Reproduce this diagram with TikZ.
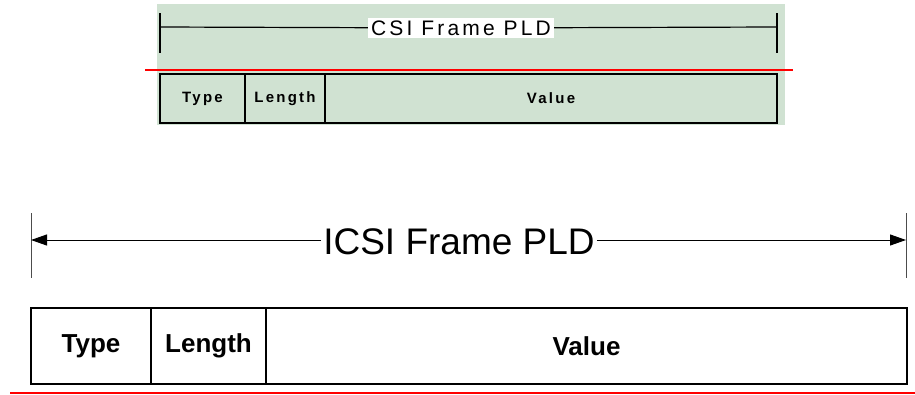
\documentclass[tikz,border=0pt]{standalone}
\usepackage{fontspec}
\setmainfont{Liberation Sans}
\newfontfamily\pixfont[LetterSpace=15]{Liberation Sans}
\usetikzlibrary{arrows.meta,positioning}
\definecolor{pldgreen}{RGB}{208,226,210}
\begin{document}
\begin{tikzpicture}[x=1pt,y=-1pt]
\useasboundingbox (0,0) rectangle (915,394);
\tikzset{oldfield/.style = {draw,line width=1.5pt,inner sep=0pt,outer sep=0pt,minimum height=49pt,font=\pixfont\bfseries\fontsize{15}{15}\selectfont}}
\tikzset{newfield/.style = {draw,line width=1.2pt,inner sep=0pt,outer sep=0pt,minimum height=76pt,font=\bfseries\fontsize{26}{26}\selectfont}}
%old frame, green background
\fill[pldgreen] (157,4) rectangle (785,125);
\draw[line width=1.5pt] (160,13) -- (160,53); \draw[line width=1.5pt] (777,13) -- (777,53);
\coordinate (oldl) at (160,27); \coordinate (oldr) at (777,27);
\node[fill=white,inner sep=3pt,font=\pixfont\fontsize{21}{21}\selectfont] (oldpld) at (461,28) {CSI Frame PLD};
\draw[line width=1.2pt] (oldl) -- (oldpld); \draw[line width=1.2pt] (oldpld) -- (oldr);
%old fields
\node[oldfield,minimum width=85pt] (oldtype) at (202.5,98.5) {Type};
\node[oldfield,minimum width=80pt,right=0pt of oldtype] (oldlength) {Length};
\node[oldfield,minimum width=452pt,right=0pt of oldlength] (oldvalue) {Value};
\draw[red,line width=1.5pt] (145,70) -- (793,70);
%new frame
\draw[line width=1pt,gray!60!black] (31,213) -- (31,278); \draw[line width=1pt,gray!60!black] (906,213) -- (906,278);
\coordinate (newl) at (31,240); \coordinate (newr) at (906,240);
\node[inner sep=2pt,font=\fontsize{37}{37}\selectfont] (newpld) at (459,242) {ICSI Frame PLD};
\tikzset{pldarrow/.style = {-{Triangle[length=16pt,width=11pt]},line width=1pt}}
\draw[pldarrow] (newpld.west |- newl) to (newl);
\draw[pldarrow] (newpld.east |- newr) to (newr);
%new fields
\node[newfield,minimum width=120pt] (newtype) at (91,346) {Type};
\node[newfield,minimum width=115pt,right=0pt of newtype] (newlength) {Length};
\node[newfield,minimum width=641pt,right=0pt of newlength] (newvalue) {Value};
\draw[red,line width=2pt] (10,392.5) -- (915,392.5);
\end{tikzpicture}
\end{document}
